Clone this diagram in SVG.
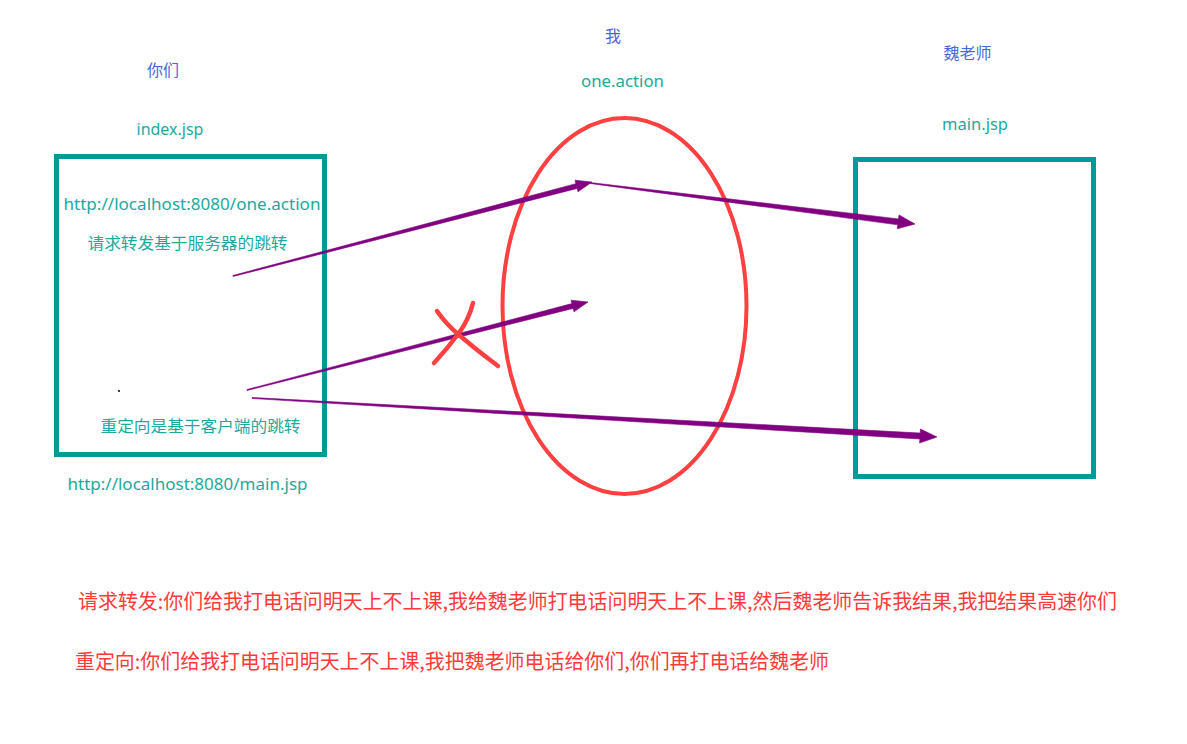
<svg xmlns="http://www.w3.org/2000/svg" width="1187" height="744" viewBox="0 0 1187 744">
<style>
.box{fill:none;stroke:#009b96;stroke-width:5}
.lbl{font-family:"Noto Sans","Noto Sans CJK SC",sans-serif;font-size:16px;fill:#1ea89e;text-anchor:middle}
.who{font-family:"Noto Sans CJK SC","Noto Sans",sans-serif;font-size:16px;fill:#4a67d9;text-anchor:middle}
.note{font-family:"Noto Sans CJK SC","Noto Sans",sans-serif;font-size:20px;fill:#ff3b3b}
.arr{fill:#800080;stroke:#800080;stroke-width:0.6;stroke-linejoin:round}
.cross{fill:none;stroke:#ff4040;stroke-width:4.5;stroke-linecap:round;stroke-linejoin:round}
</style>
<rect x="0" y="0" width="1187" height="744" fill="#ffffff"/>

<g id="you">
<text class="who" x="163" y="76">你们</text>
<text class="lbl" x="170" y="135">index.jsp</text>
<rect class="box" x="56.5" y="156.5" width="268" height="298"/>
<text class="lbl" x="192" y="210" textLength="257" lengthAdjust="spacingAndGlyphs">http://localhost:8080/one.action</text>
<text class="lbl" x="187.5" y="249" textLength="200" lengthAdjust="spacingAndGlyphs">请求转发基于服务器的跳转</text>
<circle cx="119" cy="391" r="1" fill="#000"/>
<text class="lbl" x="200.5" y="432" textLength="200" lengthAdjust="spacingAndGlyphs">重定向是基于客户端的跳转</text>
<text class="lbl" x="187.5" y="490" textLength="240" lengthAdjust="spacingAndGlyphs">http://localhost:8080/main.jsp</text>
</g>

<g id="me">
<text class="who" x="613" y="42">我</text>
<text class="lbl" x="622.5" y="87" textLength="83" lengthAdjust="spacingAndGlyphs">one.action</text>
<ellipse cx="624.5" cy="306" rx="122" ry="188" fill="none" stroke="#ff4040" stroke-width="4"/>
</g>

<g id="teacher">
<text class="who" x="967.5" y="59">魏老师</text>
<text class="lbl" x="975" y="130" textLength="66" lengthAdjust="spacingAndGlyphs">main.jsp</text>
<rect class="box" x="855.5" y="159.5" width="238" height="317"/>
</g>

<g id="connectors">
<path class="arr" d="M233.13,276.48 L577.13,188.47 L578.02,191.85 L592,182 L574.98,180.25 L575.87,183.63 L232.87,275.52 Z"/>
<path class="arr" d="M589.94,183.5 L897.75,224.85 L897.25,228.81 L915,224 L899.01,214.93 L898.51,218.89 L590.06,182.5 Z"/>
<path class="arr" d="M247.12,390.48 L573.13,308.42 L574,311.81 L588,302 L571.01,300.19 L571.89,303.58 L246.88,389.52 Z"/>
<path class="arr" d="M251.97,398.5 L919.86,439.03 L919.63,443.02 L937,437 L920.43,429.04 L920.2,433.03 L252.03,397.5 Z"/>
</g>

<g id="cross">
<path class="cross" d="M437,311 Q446,324 459,335 Q479,352 498,366"/>
<path class="cross" d="M473,303 Q469,319 459,333 Q447,349 434,363"/>
</g>

<g id="notes">
<text class="note" x="78" y="609" textLength="1039" lengthAdjust="spacingAndGlyphs">请求转发:你们给我打电话问明天上不上课,我给魏老师打电话问明天上不上课,然后魏老师告诉我结果,我把结果高速你们</text>
<text class="note" x="75" y="669" textLength="754" lengthAdjust="spacingAndGlyphs">重定向:你们给我打电话问明天上不上课,我把魏老师电话给你们,你们再打电话给魏老师</text>
</g>
</svg>
